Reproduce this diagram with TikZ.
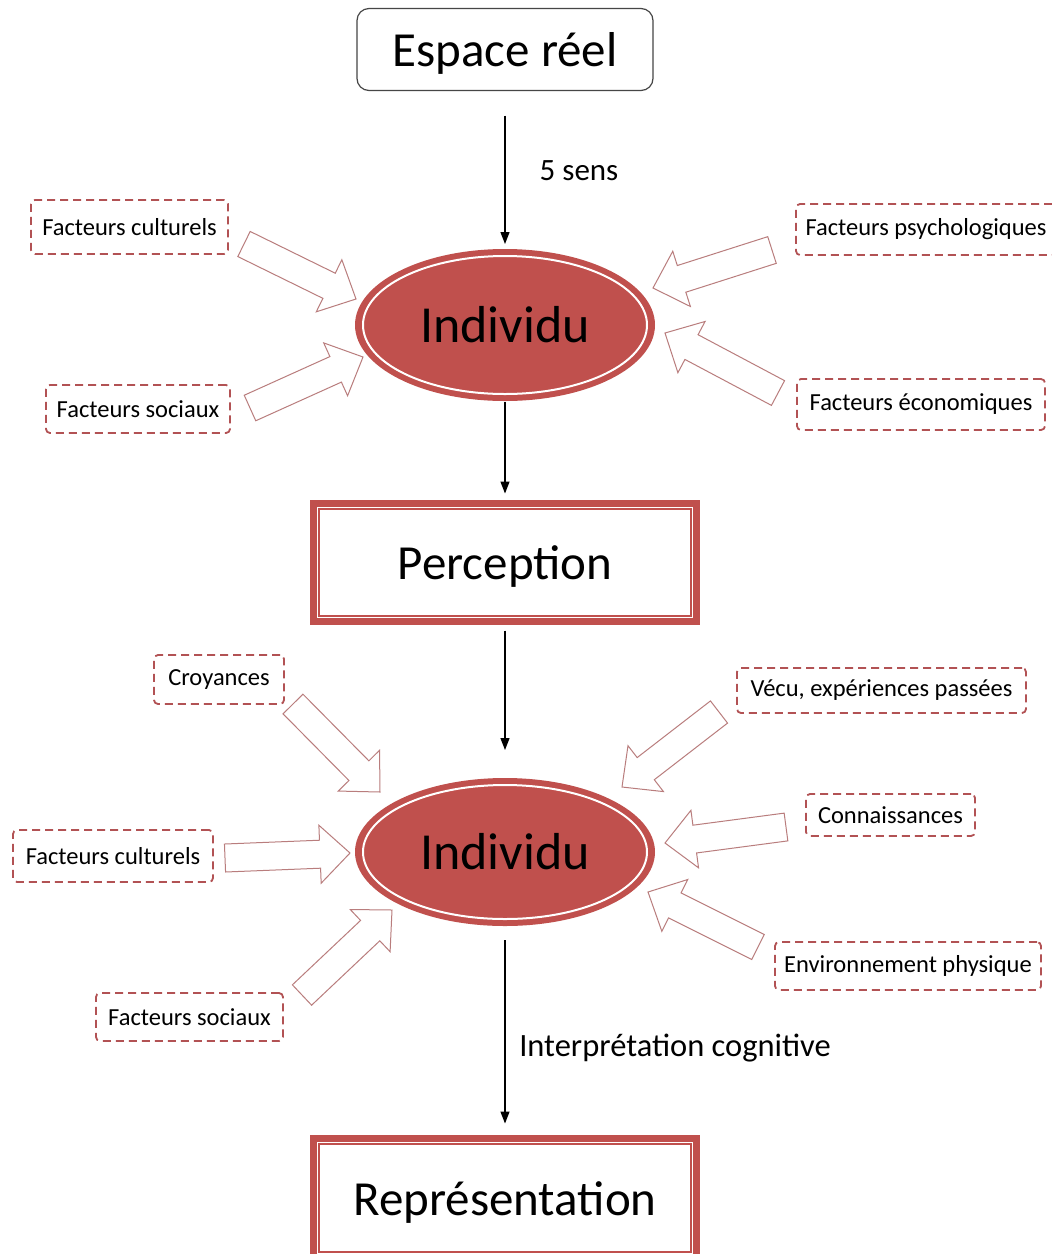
\documentclass[tikz,border=0pt]{standalone}
\usepackage{fontspec}
\setmainfont{Carlito}
\usetikzlibrary{calc,arrows.meta,shapes.geometric}
\definecolor{offred}{RGB}{192,80,77}
\definecolor{dashred}{RGB}{178,82,84}
\definecolor{arrline}{RGB}{185,125,125}
\definecolor{boxgray}{RGB}{70,70,70}
\newcommand\fbig{\fontsize{49}{58}\selectfont}
\newcommand\find{\fontsize{52}{62}\selectfont}
\newcommand\fmid{\fontsize{31}{37}\selectfont}
\newcommand\fint{\fontsize{32.5}{39}\selectfont}
\newcommand\fsml{\fontsize{24.5}{29}\selectfont}
\newcommand\blockarrow[2]{%
  \coordinate (ba-n) at ($(#2)!30pt!(#1)$);
  \draw[barrow] ($(#1)!14pt!90:(#2)$) -- ($(ba-n)!14pt!90:(#2)$) -- ($(ba-n)!29pt!90:(#2)$) -- (#2)
    -- ($(ba-n)!29pt!-90:(#2)$) -- ($(ba-n)!14pt!-90:(#2)$) -- ($(#1)!14pt!-90:(#2)$) -- cycle;
}
\tikzset{
  barrow/.style={draw=arrline, line width=1pt, fill=white, line join=miter},
  factor/.style={draw=dashred, line width=1.8pt, dash pattern=on 8pt off 5pt, rounded corners=4pt,
    inner sep=0pt, font=\fsml, fill=white},
  indiv/.style={ellipse, fill=offred, inner sep=0pt, outer sep=0pt, minimum width=300pt, minimum height=152pt, font=\find},
  framebox/.style={draw=offred, line width=7pt, inner sep=0pt, outer sep=0pt, minimum width=383pt, font=\fbig, text depth=0pt},
  flow/.style={draw=black, line width=1.3pt, -{Triangle[length=12pt,width=9pt]}},
}
\begin{document}
\begin{tikzpicture}[x=1pt,y=-1pt]
\useasboundingbox (0,0) rectangle (1052,1254);
\clip (0,0) rectangle (1052,1254);
\fill[white] (0,0) rectangle (1052,1254);

% main nodes
\node[draw=boxgray, line width=1.2pt, rounded corners=12pt, minimum width=296pt, minimum height=82pt,
  inner sep=0pt, outer sep=0pt, font=\fbig, text depth=0pt] (espace) at (505,49.5) {Espace réel};
\node[indiv] (ind1) at (505,325) {Individu};
\draw[white, line width=2pt] (ind1.center) ellipse [x radius=142pt, y radius=69pt];
\node[framebox, minimum height=118pt] (perc) at (505,562.5) {Perception};
\draw[offred, line width=1.7pt] ($(perc.south west)+(5.7,-5.7)$) rectangle ($(perc.north east)+(-5.7,5.7)$);
\node[indiv, minimum height=148pt] (ind2) at (505,852) {Individu};
\draw[white, line width=2pt] (ind2.center) ellipse [x radius=142pt, y radius=67pt];
\node[framebox, minimum height=119.5pt] (repr) at (505,1198.25) {Représentation};
\draw[offred, line width=1.7pt] ($(repr.south west)+(5.7,-5.7)$) rectangle ($(repr.north east)+(-5.7,5.7)$);

% flow connectors
\draw[flow, shorten <=25pt, shorten >=5pt] (espace.south) -- (ind1.north);
\node[font=\fmid] (sens) at (579,171) {5 sens};
\draw[flow, shorten <=1pt, shorten >=10pt] (ind1.south) -- (perc.north);
\draw[flow, shorten <=9pt, shorten >=28pt] (perc.south) -- (ind2.north);
\draw[flow, shorten <=14pt, shorten >=15pt] (ind2.south) -- (repr.north);
\node[font=\fint] (interp) at (675,1048) {Interprétation cognitive};

% factor boxes
\node[factor, minimum width=197pt, minimum height=54pt] (cult1) at (129.5,227) {Facteurs culturels};
\node[factor, minimum width=184pt, minimum height=48pt] (soc1) at (138,409) {Facteurs sociaux};
\node[factor, minimum width=260pt, minimum height=51pt] (psy) at (926,229.5) {Facteurs psychologiques};
\node[factor, minimum width=248pt, minimum height=51pt] (eco) at (921,404.5) {Facteurs économiques};
\node[factor, minimum width=130pt, minimum height=49pt] (croy) at (219,679.5) {Croyances};
\node[factor, minimum width=289pt, minimum height=45pt] (vecu) at (881.5,690.5) {Vécu, expériences passées};
\node[factor, minimum width=169pt, minimum height=42pt] (conn) at (890.5,815) {Connaissances};
\node[factor, minimum width=200pt, minimum height=52pt] (cult2) at (113,856) {Facteurs culturels};
\node[factor, minimum width=266pt, minimum height=48pt] (env) at (908,966) {Environnement physique};
\node[factor, minimum width=187pt, minimum height=48pt] (soc2) at (189.5,1017) {Facteurs sociaux};

% block arrows
\coordinate (t1) at (244,244); \coordinate (h1) at (356,299);
\coordinate (t2) at (250,408); \coordinate (h2) at (363,357);
\coordinate (t3) at (772,250); \coordinate (h3) at (653,288);
\coordinate (t4) at (778,393); \coordinate (h4) at (665,333);
\coordinate (t5) at (293,704); \coordinate (h5) at (380,792);
\coordinate (t6) at (225,858); \coordinate (h6) at (350,853);
\coordinate (t7) at (302,995); \coordinate (h7) at (392,910);
\coordinate (t8) at (719,712); \coordinate (h8) at (622,787);
\coordinate (t9) at (786,827); \coordinate (h9) at (665,843);
\coordinate (t10) at (758,947); \coordinate (h10) at (648,892);
\blockarrow{t1}{h1}
\blockarrow{t2}{h2}
\blockarrow{t3}{h3}
\blockarrow{t4}{h4}
\blockarrow{t5}{h5}
\blockarrow{t6}{h6}
\blockarrow{t7}{h7}
\blockarrow{t8}{h8}
\blockarrow{t9}{h9}
\blockarrow{t10}{h10}
\end{tikzpicture}
\end{document}
